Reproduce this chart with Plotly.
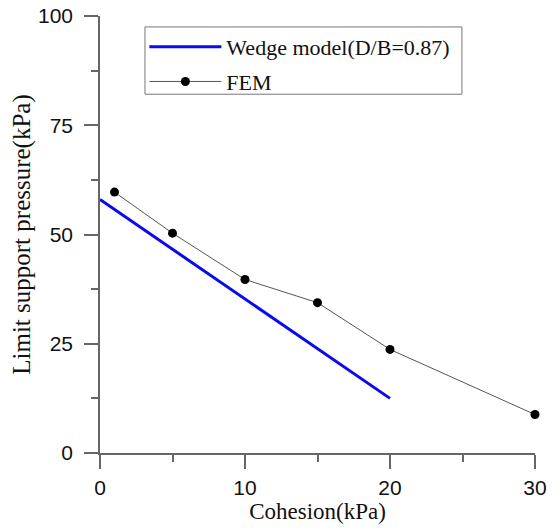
import plotly.graph_objects as go

wedge_x = [0, 20]
wedge_y = [58.0, 12.5]

fem_x = [1, 5, 10, 15, 20, 30]
fem_y = [59.7, 50.3, 39.7, 34.4, 23.7, 8.8]

x_ticks = [0, 10, 20, 30]
y_ticks = [0, 25, 50, 75, 100]

fig = go.Figure()
fig.add_trace(go.Scatter(
    x=wedge_x, y=wedge_y, mode="lines", name="Wedge model(D/B=0.87)",
    legendgroup="wedge",
    line=dict(color="#0a0aee", width=3), cliponaxis=False))
fig.add_trace(go.Scatter(
    x=fem_x, y=fem_y, mode="lines+markers", name="FEM",
    legendgroup="fem",
    line=dict(color="#555555", width=1),
    marker=dict(color="black", size=9), cliponaxis=False))

axis_common = dict(
    showgrid=False, zeroline=False, showline=True, automargin=False,
    linecolor="#666666", linewidth=1.5,
    ticks="outside", ticklen=14, tickwidth=1.5, tickcolor="#666666",
    tickfont=dict(family="Liberation Sans", size=21, color="#111111"),
    ticklabeloverflow="allow",
)

fig.update_xaxes(
    range=[0, 30], tickvals=x_ticks, ticklabelstandoff=1,
    minor=dict(dtick=5, ticks="outside", ticklen=7, tickwidth=1.5, tickcolor="#666666"),
    title=dict(text="Cohesion(kPa)", font=dict(family="Liberation Serif", size=23, color="#111111"), standoff=0),
    **axis_common)
fig.update_yaxes(
    range=[0, 100], tickvals=y_ticks, ticklabelstandoff=7,
    minor=dict(dtick=12.5, ticks="outside", ticklen=7, tickwidth=1.5, tickcolor="#666666"),
    title=dict(text="Limit support pressure(kPa)", font=dict(family="Liberation Serif", size=25, color="#111111"), standoff=0),
    **axis_common)

# legend frame drawn as a shape so its size matches the reference
fig.add_shape(type="rect", xref="paper", yref="paper",
              x0=0.1034, x1=0.832, y0=0.821, y1=0.975,
              line=dict(color="#777777", width=1), fillcolor="rgba(0,0,0,0)", layer="above")

fig.update_layout(
    width=555, height=528,
    margin=dict(l=100, r=20, t=16, b=75, pad=0),
    paper_bgcolor="white", plot_bgcolor="white",
    showlegend=True,
    legend=dict(
        x=0.102, y=0.977, xanchor="left", yanchor="top",
        borderwidth=0, bgcolor="rgba(0,0,0,0)",
        font=dict(family="Liberation Serif", size=22, color="#111111"),
        itemwidth=72, traceorder="grouped", tracegroupgap=3,
    ),
)

fig.write_html("out.html", config={"displayModeBar": False},
               post_script="document.body.style.margin='0';")
